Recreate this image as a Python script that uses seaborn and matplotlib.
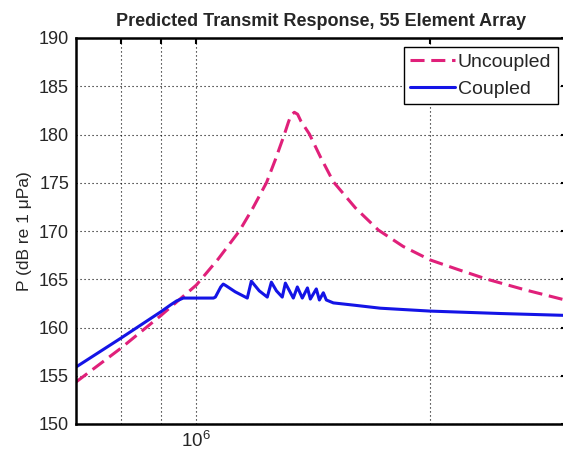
import numpy as np
import pandas as pd
import seaborn as sns
import matplotlib
matplotlib.use('Agg')
import matplotlib.pyplot as plt
from matplotlib.ticker import FixedLocator, NullFormatter

# frequency (MHz) and level (dB re 1 uPa)
freq_uncoupled = [0.70, 0.798, 0.899, 1.0, 1.067, 1.136, 1.181, 1.231, 1.264, 1.298,
                  1.314, 1.324, 1.337, 1.350, 1.363, 1.398, 1.444, 1.501, 1.602, 1.715,
                  1.846, 2.0, 2.173, 2.368, 2.650, 3.0]
p_uncoupled = [154.35, 157.8, 161.2, 164.4, 167.1, 170.0, 172.3, 175.0, 177.4, 180.0,
               181.3, 182.0, 182.3, 182.1, 181.4, 180.05, 177.7, 175.1, 172.4, 170.1,
               168.4, 167.0, 166.0, 165.0, 163.9, 162.8]

freq_coupled = [0.70, 0.798, 0.899, 0.926, 0.943, 0.962, 1.052, 1.058, 1.075, 1.083,
                1.091, 1.122, 1.163, 1.177, 1.205, 1.234, 1.249, 1.268, 1.290, 1.302,
                1.333, 1.349, 1.369, 1.390, 1.402, 1.427, 1.440, 1.457, 1.470, 1.501,
                1.601, 1.725, 2.0, 2.461, 3.0]
p_coupled = [155.9, 158.85, 161.6, 162.33, 162.75, 163.05, 163.05, 163.15, 164.2, 164.5,
             164.35, 163.7, 163.05, 164.8, 163.8, 163.15, 164.7, 163.8, 163.15, 164.6,
             163.05, 164.2, 163.05, 164.1, 162.95, 164.0, 162.85, 163.6, 162.85, 162.55,
             162.3, 162.0, 161.7, 161.45, 161.25]

df_u = pd.DataFrame({'f': np.array(freq_uncoupled) * 1e6, 'P': p_uncoupled})
df_c = pd.DataFrame({'f': np.array(freq_coupled) * 1e6, 'P': p_coupled})

sns.set_style('white')
plt.rcParams['font.family'] = ['Liberation Sans', 'DejaVu Sans']
plt.rcParams['mathtext.fontset'] = 'custom'
plt.rcParams['mathtext.rm'] = 'Liberation Sans'
plt.rcParams['mathtext.default'] = 'regular'

fig = plt.figure(figsize=(5.63, 4.55), dpi=100)
ax = fig.add_axes([76 / 563, 1 - 424 / 455, (567 - 76) / 563, (424 - 38) / 455])

sns.lineplot(data=df_u, x='f', y='P', ax=ax, color='#e0207a', lw=2.2,
             linestyle=(0, (4.6, 2.2)), label='Uncoupled', sort=False, estimator=None)
sns.lineplot(data=df_c, x='f', y='P', ax=ax, color='#1414e6', lw=2.2,
             label='Coupled', sort=False, estimator=None)

ax.set_xscale('log')
ax.set_xlim(7e5, 3e6)
ax.set_ylim(150, 190)
ax.set_yticks(range(150, 191, 5))
ax.xaxis.set_major_locator(FixedLocator([1e6]))
ax.set_xticklabels(['$10^6$'])
ax.xaxis.set_minor_locator(FixedLocator([8e5, 9e5, 2e6]))
ax.xaxis.set_minor_formatter(NullFormatter())

grid_ls = (0, (1, 2.6))
ax.grid(True, which='both', axis='x', ls=grid_ls, color='k', lw=0.8)
ax.grid(True, which='major', axis='y', ls=grid_ls, color='k', lw=0.8)

ax.tick_params(which='both', direction='in', top=True, right=True, length=4,
               width=1.5, color='k', labelsize=13, pad=5)
ax.tick_params(axis='x', labelsize=13.5)
for s in ax.spines.values():
    s.set_color('k')
    s.set_linewidth(1.8)

ax.set_xlabel('')
ax.set_ylabel('P (dB re 1 \u03bcPa)', fontsize=12.5, labelpad=5)
ax.set_title('Predicted Transmit Response, 55 Element Array', fontsize=13,
             fontweight='bold', pad=9)

leg = ax.legend(loc='upper right', fontsize=14, frameon=True, fancybox=False,
                edgecolor='k', framealpha=1, handlelength=2.3, handletextpad=0.15,
                borderaxespad=0.45, borderpad=0.35, labelspacing=0.45)
leg.get_frame().set_linewidth(1.0)

fig.savefig('out.png', dpi=100)
